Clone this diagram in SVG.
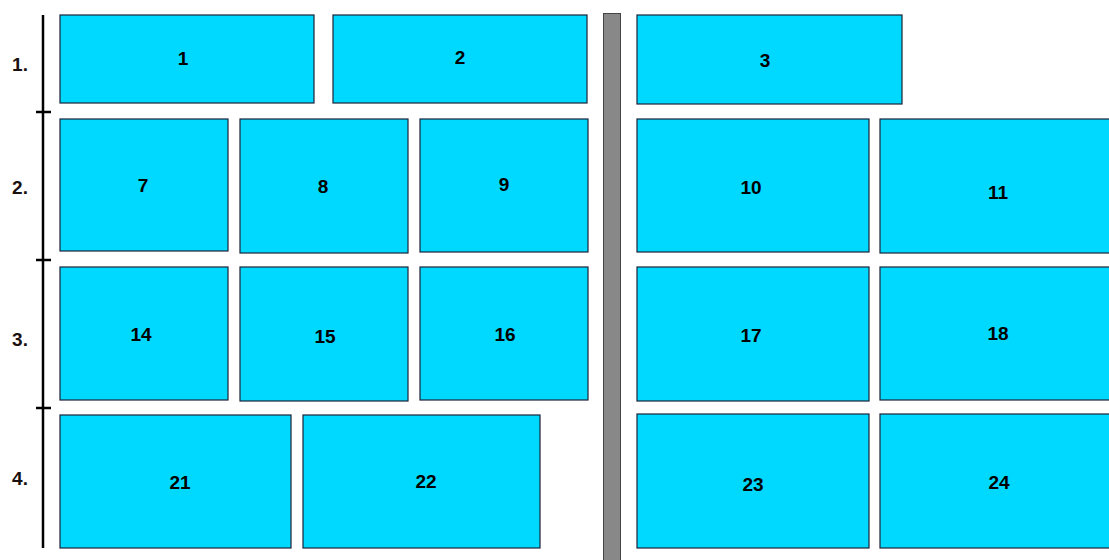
<svg xmlns="http://www.w3.org/2000/svg" width="1109" height="560" viewBox="0 0 1109 560">
<style>
.b{fill:#00d9ff;stroke:#1c2238;stroke-width:1.2}
.t{font-family:"Liberation Sans",Arial,sans-serif;font-weight:bold;font-size:19px;fill:#000;text-anchor:middle;dominant-baseline:central}
.r{font-family:"Liberation Sans",Arial,sans-serif;font-weight:bold;font-size:19px;fill:#1a1010;text-anchor:middle;dominant-baseline:central}
</style>
<rect width="1109" height="560" fill="#fff"/>
<g id="axis" stroke="#000" stroke-width="2.5">
<line x1="43" y1="15" x2="43" y2="548"/>
<line x1="36" y1="112" x2="51" y2="112"/>
<line x1="36" y1="260" x2="51" y2="260"/>
<line x1="36" y1="408" x2="51" y2="408"/>
</g>
<g id="rowlabels">
<text class="r" x="20" y="64">1.</text>
<text class="r" x="20" y="187">2.</text>
<text class="r" x="20" y="339">3.</text>
<text class="r" x="20" y="478">4.</text>
</g>
<g id="divider"><rect x="603.5" y="13.5" width="17" height="550" fill="#888" stroke="#444" stroke-width="1"/></g>
<g id="n1"><rect class="b" x="60" y="15" width="254" height="88"/><text class="t" x="183" y="58">1</text></g>
<g id="n2"><rect class="b" x="333" y="15" width="254" height="88"/><text class="t" x="460" y="57">2</text></g>
<g id="n3"><rect class="b" x="637" y="15" width="265" height="89"/><text class="t" x="765" y="60">3</text></g>
<g id="n7"><rect class="b" x="60" y="119" width="168" height="132"/><text class="t" x="143" y="185">7</text></g>
<g id="n8"><rect class="b" x="240" y="119" width="168" height="134"/><text class="t" x="323" y="186">8</text></g>
<g id="n9"><rect class="b" x="420" y="119" width="168" height="133"/><text class="t" x="504" y="184">9</text></g>
<g id="n10"><rect class="b" x="637" y="119" width="232" height="133"/><text class="t" x="751" y="187">10</text></g>
<g id="n11"><rect class="b" x="880" y="119" width="235" height="134"/><text class="t" x="998" y="192">11</text></g>
<g id="n14"><rect class="b" x="60" y="267" width="168" height="133"/><text class="t" x="141" y="334">14</text></g>
<g id="n15"><rect class="b" x="240" y="267" width="168" height="134"/><text class="t" x="325" y="336">15</text></g>
<g id="n16"><rect class="b" x="420" y="267" width="168" height="133"/><text class="t" x="505" y="334">16</text></g>
<g id="n17"><rect class="b" x="637" y="267" width="232" height="134"/><text class="t" x="751" y="335">17</text></g>
<g id="n18"><rect class="b" x="880" y="267" width="235" height="133"/><text class="t" x="998" y="333">18</text></g>
<g id="n21"><rect class="b" x="60" y="415" width="231" height="133"/><text class="t" x="180" y="482">21</text></g>
<g id="n22"><rect class="b" x="303" y="415" width="237" height="133"/><text class="t" x="426" y="481">22</text></g>
<g id="n23"><rect class="b" x="637" y="414" width="232" height="134"/><text class="t" x="753" y="484">23</text></g>
<g id="n24"><rect class="b" x="880" y="414" width="235" height="134"/><text class="t" x="999" y="482">24</text></g>
<g id="connectors"></g>
</svg>
